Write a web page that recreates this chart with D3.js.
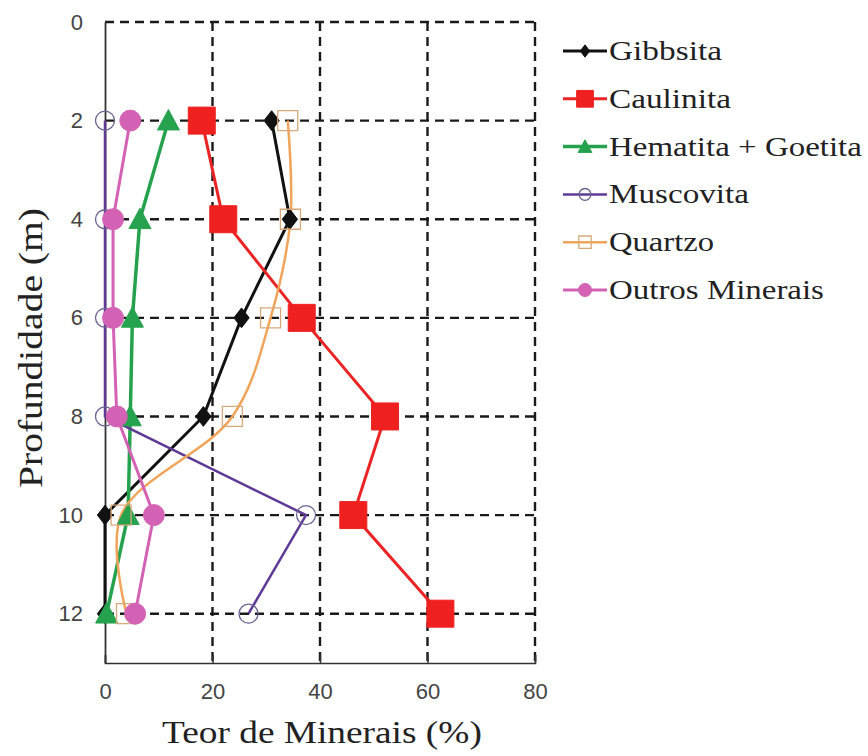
<!DOCTYPE html>
<html><head><meta charset="utf-8">
<script src="https://cdn.jsdelivr.net/npm/d3@7"></script>
<style>html,body{margin:0;padding:0;background:#fff;}svg{display:block;}</style>
</head><body>
<script>
const depths = [2, 4, 6, 8, 10, 12];
const gibbsita   = [31.0, 34.4, 25.4, 18.3, 0.0, 0.0];
const caulinita  = [18.0, 22.0, 36.6, 52.1, 46.2, 62.4];
const hematita   = [11.8, 6.5, 5.1, 4.7, 4.3, 0.3];
const muscovita  = [0.0, 0.0, 0.0, 0.0, 37.4, 26.7];
const quartzo    = [34.0, 34.5, 30.8, 23.7, 3.0, 4.0];
const outros     = [4.7, 1.5, 1.5, 2.2, 9.1, 5.6];
const seriesNames = ["Gibbsita", "Caulinita", "Hematita + Goetita", "Muscovita", "Quartzo", "Outros Minerais"];
const xTicks = [0, 20, 40, 60, 80];
const yTicks = [0, 2, 4, 6, 8, 10, 12];

const SERIF = "Tinos";
const SANS = "Liberation Sans";

const series = [
  {name: seriesNames[0], values: gibbsita,  color: "#111111", sym: "diamond", size: 18, fill: "#111111", stroke: "#111111", sw: 1, lw: 3, curve: d3.curveLinear, lgLen: 113},
  {name: seriesNames[1], values: caulinita, color: "#ea2424", sym: "square",  size: 27, fill: "#ee2020", stroke: "#ee2020", sw: 1, lw: 3, curve: d3.curveLinear, lgLen: 122},
  {name: seriesNames[2], values: hematita,  color: "#26a24e", sym: "triangle",size: 22, fill: "#26a24e", stroke: "#26a24e", sw: 1, lw: 3.5, curve: d3.curveLinear, lgLen: 253},
  {name: seriesNames[3], values: muscovita, color: "#5e3a96", sym: "circle",  size: 19, fill: "none",    stroke: "#6b6292", sw: 1.3, lw: 2.5, curve: d3.curveLinear, lgLen: 140},
  {name: seriesNames[4], values: quartzo,   color: "#f0a45a", sym: "square",  size: 20, fill: "none",    stroke: "#d8a878", sw: 1.3, lw: 2.5, curve: d3.curveCatmullRom, lgLen: 105},
  {name: seriesNames[5], values: outros,    color: "#d462b4", sym: "circle",  size: 21, fill: "#d462b4", stroke: "#d462b4", sw: 1, lw: 3, curve: d3.curveLinear, lgLen: 215}
];

const W = 868, H = 756;
const pLeft = 105, pRight = 535, pTop = 22, pBottom = 663;

const svg = d3.select("body").append("svg").attr("width", W).attr("height", H);

const x = d3.scaleLinear().domain([0, 80]).range([pLeft, pRight]);
const y = d3.scaleLinear().domain([0, 13]).range([pTop, pBottom]);

function symPath(type, s) {
  const h = s / 2;
  if (type === "diamond") return `M0,${-h*1.1}L${h*0.85},0L0,${h*1.1}L${-h*0.85},0Z`;
  if (type === "square") return `M${-h},${-h}H${h}V${h}H${-h}Z`;
  if (type === "triangle") return `M0,${-h}L${h},${h*0.85}L${-h},${h*0.85}Z`;
  if (type === "circle") return `M${h},0A${h},${h} 0 1,1 ${-h},0A${h},${h} 0 1,1 ${h},0Z`;
}

// Serif label stretched horizontally to a target width (no textLength)
function serifLabel(parent, tx, ty, rot, txt, fs, target) {
  const g = parent.append("g");
  const t = g.append("text").attr("x", 0).attr("y", 0)
    .attr("font-family", SERIF).attr("font-size", fs).attr("fill", "#222").text(txt);
  const len = t.node().getComputedTextLength() || target;
  const sx = target / len;
  g.attr("transform", `translate(${tx},${ty}) rotate(${rot}) scale(${sx},1)`);
  return g;
}

// Grid
const grid = svg.append("g").attr("stroke", "#1a1a1a").attr("stroke-width", 2.4).attr("stroke-dasharray", "9,6");
[20, 40, 60, 80].forEach(v => {
  grid.append("line").attr("x1", x(v)).attr("x2", x(v)).attr("y1", y(0)).attr("y2", pBottom);
});
yTicks.forEach(v => {
  grid.append("line").attr("x1", pLeft).attr("x2", pRight).attr("y1", y(v)).attr("y2", y(v));
});

// Axes
const xAxis = d3.axisBottom(x).tickValues(xTicks).tickSize(-8).tickPadding(20).tickFormat(d3.format("d"));
const gx = svg.append("g").attr("transform", `translate(0,${pBottom})`).call(xAxis)
  .attr("font-family", SANS).attr("font-size", 22);
gx.select(".domain").attr("stroke", "#333").attr("stroke-width", 1.5);
gx.selectAll(".tick line").attr("stroke", "#333").attr("stroke-width", 1.5);
gx.selectAll("text").attr("fill", "#444");

const yAxis = d3.axisLeft(y).tickValues(yTicks).tickSize(0).tickPadding(22).tickFormat(d3.format("d"));
const gy = svg.append("g").attr("transform", `translate(${pLeft},0)`).call(yAxis)
  .attr("font-family", SANS).attr("font-size", 22);
gy.select(".domain").attr("stroke", "#333").attr("stroke-width", 1.8);
gy.selectAll("text").attr("fill", "#444");

// Lines
series.forEach(s => {
  const line = d3.line().x(d => x(d[1])).y(d => y(d[0])).curve(s.curve);
  svg.append("path").datum(depths.map((d, i) => [d, s.values[i]]))
    .attr("d", line).attr("fill", "none").attr("stroke", s.color).attr("stroke-width", s.lw);
});
// Markers
series.forEach(s => {
  svg.append("g").selectAll("path").data(depths.map((d, i) => [d, s.values[i]])).join("path")
    .attr("transform", d => `translate(${x(d[1])},${y(d[0])})`)
    .attr("d", symPath(s.sym, s.size))
    .attr("fill", s.fill).attr("stroke", s.stroke).attr("stroke-width", s.sw);
});

// Axis titles
serifLabel(svg, 162, 743, 0, "Teor de Minerais (%)", 32, 320);
serifLabel(svg, 42, 488, -90, "Profundidade (m)", 33, 280);

// Legend
const lg = svg.append("g");
series.forEach((s, i) => {
  const cy = 51 + i * 47.8;
  lg.append("line").attr("x1", 563).attr("x2", 607).attr("y1", cy).attr("y2", cy)
    .attr("stroke", s.color).attr("stroke-width", s.lw);
  lg.append("path").attr("transform", `translate(585,${cy})`).attr("d", symPath(s.sym, s.size * 0.62))
    .attr("fill", s.fill).attr("stroke", s.stroke).attr("stroke-width", s.sw);
  serifLabel(lg, 609, cy + 9, 0, s.name, 27, s.lgLen);
});
</script>
</body></html>
